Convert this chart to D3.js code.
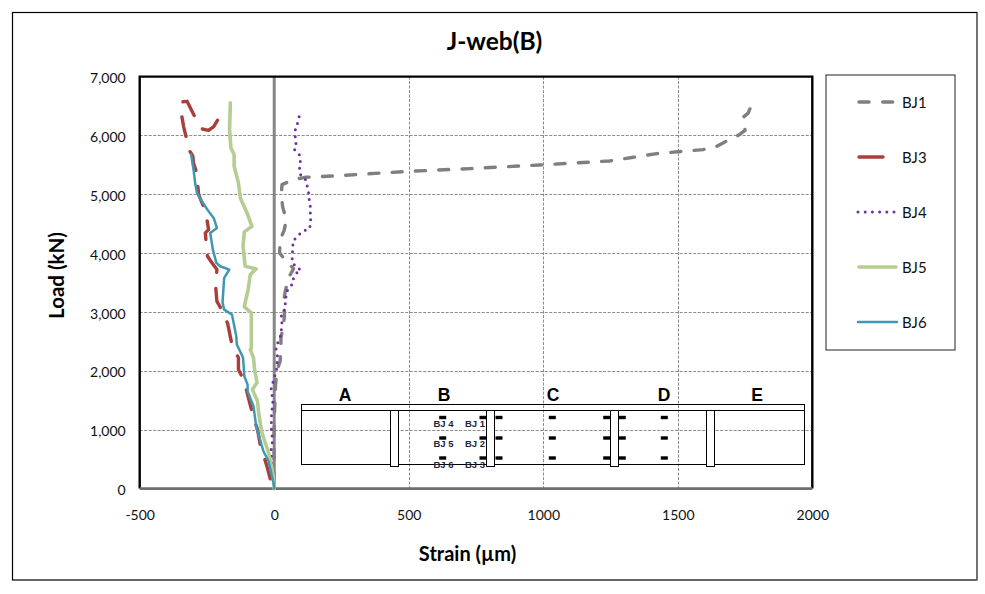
<!DOCTYPE html>
<html><head><meta charset="utf-8">
<script src="https://cdnjs.cloudflare.com/ajax/libs/d3/7.8.5/d3.min.js"></script>
<style>html,body{margin:0;padding:0;background:#fff}svg{display:block}text{font-family:Lato,"Open Sans",sans-serif}</style>
</head><body><svg id="c" width="985" height="594"></svg>
<script>
const chartTitle="J-web(B)", xTitle="Strain (µm)", yTitle="Load (kN)";
const xTicks=[-500,0,500,1000,1500,2000];
const yTicks=[0,1000,2000,3000,4000,5000,6000,7000];
const seriesNames=["BJ1","BJ3","BJ4","BJ5","BJ6"];
const BJ1_strain=[0,-1,0,5,10,22,25,25,35,38,35,41,53,72,41,20,22,37,45,32,26,29,72,115,196,505,728,988,1248,1335,1422,1595,1645,1675,1725,1750,1743,1762,1768];
const BJ1_load=[0,781,1172,1767,2005,2163,2396,2565,2786,2956,3182,3352,3580,3738,3879,4004,4230,4388,4570,4774,4978,5165,5250,5289,5306,5391,5437,5499,5567,5629,5692,5760,5816,5890,6003,6087,6308,6383,6451];
const BJ3_strain=[0,-11,-27,-52,-62,-77,-98,-111,-133,-133,-155,-173,-192,-213,-217,-215,-213,-231,-248,-253,-256,-244,-250,-263,-281,-285,-291,-300,-303,-318,-328,-337,-345,-343,-324,-293,-269,-244,-225,-211];
const BJ3_load=[0,102,379,748,1002,1206,1580,1823,2022,2226,2396,2803,3012,3182,3393,3624,3721,3835,3947,4174,4344,4400,4570,4796,4995,5194,5403,5533,5658,5760,5985,6155,6366,6570,6580,6298,6111,6087,6150,6257];
const BJ4_strain=[0,1,-9,-11,-12,-6,-11,-10,-5,-12,-3,10,12,6,25,29,26,41,41,47,66,72,84,99,82,66,68,68,72,90,105,130,136,134,134,129,127,121,115,97,94,97,93,75,81,78,78,87,93,103];
const BJ4_load=[0,40,352,578,691,804,1031,1257,1483,1728,1823,2051,2277,2390,2616,2842,2956,3053,3182,3352,3466,3580,3665,3721,3755,3862,3993,4094,4218,4304,4371,4412,4502,4711,4825,4939,5068,5165,5267,5335,5449,5561,5675,5760,5861,5975,6087,6213,6325,6422];
const BJ5_strain=[0,-3,-21,-46,-58,-62,-81,-64,-73,-77,-89,-85,-85,-111,-108,-97,-89,-67,-108,-116,-111,-83,-101,-126,-133,-149,-149,-161,-166,-163];
const BJ5_load=[0,209,612,951,1291,1483,1682,1801,2022,2226,2362,2390,2985,3087,3155,3381,3636,3733,3777,4117,4361,4456,4684,4939,5194,5476,5675,5788,6099,6553];
const BJ6_strain=[0,0,-21,-40,-67,-77,-99,-99,-111,-116,-139,-141,-157,-186,-192,-189,-186,-167,-201,-215,-228,-238,-213,-225,-244,-269,-287,-293,-300,-309];
const BJ6_load=[0,40,464,634,1058,1398,1653,1767,1908,2226,2447,2587,2956,3041,3160,3381,3580,3721,3777,3835,4060,4344,4429,4599,4711,4881,5024,5165,5420,5675];
const insetZones=["A","B","C","D","E"];
const insetGauges=[["BJ 4","BJ 1"],["BJ 5","BJ 2"],["BJ 6","BJ 3"]];

const svg=d3.select("#c");
const x=d3.scaleLinear().domain([-500,2000]).range([139.7,812.3]);
const y=d3.scaleLinear().domain([0,7000]).range([488.6,76.6]);
const F='Lato,"Open Sans",sans-serif', A='"Liberation Sans",Arial,sans-serif';

svg.append("rect").attr("x",12.5).attr("y",12.5).attr("width",964.5).attr("height",567.5).attr("fill","#fff").attr("stroke","#000").attr("stroke-width",1.2);
svg.append("line").attr("x1",977).attr("x2",977).attr("y1",13).attr("y2",580).attr("stroke","#777").attr("stroke-width",1.5);

const grid=svg.append("g").attr("stroke","#8c8c8c").attr("stroke-width",1).attr("stroke-dasharray","3 1.5").attr("fill","none");
yTicks.slice(1,-1).forEach(v=>grid.append("line").attr("x1",x(-500)).attr("x2",x(2000)).attr("y1",Math.round(y(v))+.5).attr("y2",Math.round(y(v))+.5));
[500,1000,1500].forEach(v=>grid.append("line").attr("x1",Math.round(x(v))+.5).attr("x2",Math.round(x(v))+.5).attr("y1",y(7000)).attr("y2",y(0)));

const ins=svg.append("g");
function rect(a,b,c,d,f){return ins.append("rect").attr("x",a).attr("y",b).attr("width",c-a).attr("height",d-b).attr("stroke","#000").attr("stroke-width",1).attr("fill",f||"none");}
rect(301.5,404.5,804.5,464.5);
ins.append("line").attr("x1",301.5).attr("x2",804.5).attr("y1",410.5).attr("y2",410.5).attr("stroke","#000");
[390.5,486.5,610.5,706.5].forEach(a=>rect(a,410.5,a+8,466.5,"#fff"));
[442.7,483,499,552.3,606.7,622.3,664.3].forEach(cx=>[417.5,438,458].forEach(cy=>
  ins.append("rect").attr("x",cx-3.5).attr("y",cy-1.7).attr("width",7).attr("height",3.4).attr("fill","#000")));
[345,444,553,664,757].forEach((px,i)=>ins.append("text").attr("x",px).attr("y",401).attr("text-anchor","middle")
  .style("font-family",A).style("font-weight","bold").style("font-size","17.5px").attr("fill","#000").text(insetZones[i]));
insetGauges.forEach((row,r)=>row.forEach((t,c)=>ins.append("text").attr("x",c?475:443.5).attr("y",[426.5,447.3,468][r]).attr("text-anchor","middle")
  .style("font-family",A).style("font-weight","bold").style("font-size","9.5px").attr("fill","#1a2540").text(t)));

svg.append("line").attr("x1",x(0)).attr("x2",x(0)).attr("y1",y(7000)).attr("y2",y(0)).attr("stroke","#868686").attr("stroke-width",3);
const frame=svg.append("g").attr("fill","none");
frame.append("path").attr("d",`M${x(-500)},${y(0)}V${y(7000)}H${x(2000)}V${y(0)}`).attr("stroke","#000").attr("stroke-width",2.4);
frame.append("line").attr("x1",x(-500)).attr("x2",x(2000)).attr("y1",y(0)).attr("y2",y(0)).attr("stroke","#6e6e6e").attr("stroke-width",2.6);

const axY=svg.append("g").attr("transform",`translate(${x(-500)},1.5)`).call(d3.axisLeft(y).tickValues(yTicks).tickSize(0).tickPadding(14).tickFormat(d3.format(",")));
axY.select(".domain").remove();
axY.selectAll("text").style("font-family",F).style("font-size","14px").attr("fill","#111");
const axX=svg.append("g").attr("transform",`translate(0,${y(0)})`).call(d3.axisBottom(x).tickValues(xTicks).tickSize(0).tickPadding(21).tickFormat(d=>d));
axX.select(".domain").remove();
axX.selectAll("text").style("font-family",F).style("font-size","14px").attr("fill","#111");

const styles={BJ1:{c:"#7f7f7f",w:3.4,on:10,off:13.3},BJ3:{c:"#a93f3b",w:3.4,on:20,off:16},BJ4:{c:"#7030a0",w:3,on:0,off:6.8},BJ5:{c:"#b5cc92",w:3.6},BJ6:{c:"#3f98b2",w:2.5}};
const seriesData={BJ1:[BJ1_strain,BJ1_load],BJ3:[BJ3_strain,BJ3_load],BJ4:[BJ4_strain,BJ4_load],BJ5:[BJ5_strain,BJ5_load],BJ6:[BJ6_strain,BJ6_load]};
const line=d3.line().x(d=>x(d[0])).y(d=>y(d[1]));
seriesNames.forEach(n=>{const s=styles[n],[a,b]=seriesData[n];
  const p=svg.append("path").datum(a.map((v,i)=>[v,b[i]])).attr("d",line).attr("fill","none").attr("stroke",s.c).attr("stroke-width",s.w)
   .attr("stroke-linejoin","round").attr("stroke-linecap","round");
  if(s.off){ // keep the pattern's phase so that a dash finishes at the line's last point
    const L=p.node().getTotalLength(), per=s.on+s.off, off=(per-(L-s.on)%per)%per;
    p.attr("stroke-dasharray",`${s.on} ${s.off}`).attr("stroke-dashoffset",off);
  }
});

svg.append("text").attr("x",494.5).attr("y",50).attr("text-anchor","middle").style("font-weight","bold").style("font-size","24.5px").attr("fill","#000").text(chartTitle);
svg.append("text").attr("x",467.5).attr("y",561).attr("text-anchor","middle").style("font-weight","bold").style("font-size","20px").attr("fill","#000").text(xTitle);
svg.append("text").attr("transform","translate(64,275.5) rotate(-90)").attr("text-anchor","middle").style("font-weight","bold").style("font-size","20.5px").attr("fill","#000").text(yTitle);

svg.append("rect").attr("x",826).attr("y",75).attr("width",129).attr("height",275).attr("fill","#fff").attr("stroke","#222").attr("stroke-width",1);
seriesNames.forEach((n,i)=>{const s=styles[n],yy=102+i*55;
  const ends={BJ1:[859,893],BJ3:[859,883],BJ4:[858,894],BJ5:[859,896],BJ6:[858,897]}[n];
  svg.append("line").attr("x1",ends[0]).attr("x2",ends[1]).attr("y1",yy).attr("y2",yy).attr("stroke",s.c).attr("stroke-width",s.w)
    .attr("stroke-linecap","round").attr("stroke-dasharray",n=="BJ1"?"10 13.7":n=="BJ4"?"0 7.2":null);
  svg.append("text").attr("x",902).attr("y",yy+5.5).style("font-size","15px").attr("fill","#111").text(n);
});
</script></body></html>
